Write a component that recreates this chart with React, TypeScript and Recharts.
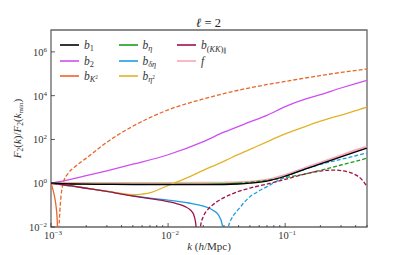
import React from "react";
import { LineChart, Line, XAxis, YAxis, Legend, ReferenceArea, Label } from "recharts";

const FONT = "'Liberation Serif', 'DejaVu Serif', serif";

// k values (h/Mpc) and F2(k)/F2(kmin); dashed = negative part
const kB1 = [0.001, 0.0015, 0.002, 0.003, 0.005, 0.01, 0.02, 0.03, 0.04, 0.05, 0.07, 0.1, 0.15, 0.2, 0.3, 0.4, 0.5];
const vB1 = [1, 0.92, 0.9, 0.88, 0.87, 0.86, 0.86, 0.87, 0.92, 1.0, 1.25, 2.1, 4.5, 7.6, 16, 27, 40];
const vF = [1, 1, 1, 1, 1, 1, 1.01, 1.03, 1.07, 1.14, 1.4, 2.3, 5, 8.5, 18, 31, 45];

const kB2 = [0.001, 0.0014, 0.002, 0.003, 0.005, 0.01, 0.02, 0.03, 0.05, 0.07, 0.1, 0.15, 0.2, 0.3, 0.4, 0.5];
const vB2 = [1, 1.41, 2.2, 3.7, 7.4, 20, 80, 214, 630, 1260, 3160, 7080, 11200, 22400, 35500, 50100];

const kK2 = [0.001, 0.00104, 0.00108, 0.00111, 0.00113, 0.00114];
const vK2 = [1, 0.5, 0.2, 0.07, 0.02, 0.004];
const kK2n = [0.00116, 0.0012, 0.00127, 0.0014, 0.0016, 0.002, 0.003, 0.005, 0.01, 0.02, 0.04, 0.1, 0.2, 0.316, 0.5];
const vK2n = [0.004, 0.1, 1, 2.8, 5.6, 14, 75, 400, 2240, 7080, 17800, 44700, 83000, 120000, 166000];

const kEta = [0.001, 0.0015, 0.002, 0.003, 0.005, 0.01, 0.02, 0.03, 0.04];
const vEta = [1, 0.93, 0.91, 0.9, 0.9, 0.9, 0.91, 0.95, 1.02];
const kEtaN = [0.04, 0.05, 0.07, 0.1, 0.15, 0.2, 0.3, 0.4, 0.5];
const vEtaN = [1.02, 1.1, 1.35, 1.8, 2.7, 3.9, 6.8, 10, 14];

const kDE = [0.001, 0.0015, 0.002, 0.003, 0.005, 0.007, 0.01, 0.015, 0.02, 0.024, 0.027, 0.029, 0.0298];
const vDE = [1, 0.75, 0.59, 0.42, 0.27, 0.21, 0.17, 0.125, 0.09, 0.06, 0.035, 0.013, 0.003];
const kDEn = [0.0316, 0.033, 0.035, 0.04, 0.045, 0.05, 0.06, 0.07, 0.08, 0.1, 0.15, 0.2, 0.3, 0.4, 0.5];
const vDEn = [0.003, 0.012, 0.025, 0.065, 0.14, 0.24, 0.45, 0.7, 1.05, 1.9, 4.5, 7.3, 12.3, 18, 24];

const kE2 = [0.001, 0.0015, 0.002, 0.003, 0.004, 0.005, 0.006, 0.0071, 0.009, 0.0112, 0.015, 0.0202, 0.027, 0.035, 0.05, 0.07, 0.1, 0.15, 0.2, 0.3, 0.4, 0.5];
const vE2 = [1, 0.76, 0.6, 0.43, 0.34, 0.3, 0.32, 0.37, 0.62, 1.0, 1.9, 4, 7.8, 15, 35, 78, 180, 400, 680, 1300, 2050, 3000];

const kKK = [0.001, 0.0015, 0.002, 0.003, 0.005, 0.007, 0.01, 0.012, 0.014, 0.0155, 0.0165, 0.017, 0.0174, 0.0176];
const vKK = [1, 0.75, 0.59, 0.42, 0.26, 0.2, 0.145, 0.115, 0.085, 0.06, 0.038, 0.022, 0.008, 0.002];
const kKKn = [0.0186, 0.019, 0.02, 0.022, 0.025, 0.03, 0.035, 0.04, 0.05, 0.07, 0.1, 0.15, 0.2, 0.25, 0.3, 0.35, 0.4, 0.45, 0.5];
const vKKn = [0.003, 0.012, 0.03, 0.065, 0.12, 0.22, 0.32, 0.42, 0.6, 0.92, 1.5, 2.7, 3.6, 4.0, 3.8, 3.2, 2.4, 1.5, 0.7];

const X_MAJOR = [0.001, 0.01, 0.1];
const X_TICKS = [
  0.001, 0.002, 0.003, 0.004, 0.005, 0.006, 0.007, 0.008, 0.009,
  0.01, 0.02, 0.03, 0.04, 0.05, 0.06, 0.07, 0.08, 0.09,
  0.1, 0.2, 0.3, 0.4, 0.5,
];
const Y_TICKS = [1e-2, 1, 1e2, 1e4, 1e6];

const C = {
  b1: "#000000",
  b2: "#cc4ff0",
  bK2: "#e8662a",
  eta: "#1c9c1c",
  deta: "#1f9de0",
  eta2: "#e2b227",
  kk: "#9e114a",
  f: "#f5a9b6",
};

const pts = (k: number[], v: number[]) => k.map((x, i) => ({ k: x, v: v[i] }));

const SERIES = [
  { id: "f", data: pts(kB1, vF), color: C.f, width: 2.6, dash: undefined },
  { id: "b2", data: pts(kB2, vB2), color: C.b2, width: 1.3, dash: undefined },
  { id: "bK2", data: pts(kK2, vK2), color: C.bK2, width: 1.3, dash: undefined },
  { id: "bK2n", data: pts(kK2n, vK2n), color: C.bK2, width: 1.3, dash: "4 2" },
  { id: "eta", data: pts(kEta, vEta), color: C.eta, width: 1.3, dash: undefined },
  { id: "etan", data: pts(kEtaN, vEtaN), color: C.eta, width: 1.3, dash: "4 2" },
  { id: "deta", data: pts(kDE, vDE), color: C.deta, width: 1.3, dash: undefined },
  { id: "detan", data: pts(kDEn, vDEn), color: C.deta, width: 1.3, dash: "4 2" },
  { id: "eta2", data: pts(kE2, vE2), color: C.eta2, width: 1.3, dash: undefined },
  { id: "kk", data: pts(kKK, vKK), color: C.kk, width: 1.3, dash: undefined },
  { id: "kkn", data: pts(kKKn, vKKn), color: C.kk, width: 1.3, dash: "4 2" },
  { id: "b1", data: pts(kB1, vB1), color: C.b1, width: 1.3, dash: undefined },
];

const sub = { fontSize: "72%", verticalAlign: "-0.3em", lineHeight: 0 } as React.CSSProperties;
const sup = { fontSize: "62%", verticalAlign: "0.5em", lineHeight: 0 } as React.CSSProperties;

const LEGEND = [
  { color: C.b1, label: <><i>b</i><span style={sub}>1</span></> },
  { color: C.b2, label: <><i>b</i><span style={sub}>2</span></> },
  { color: C.bK2, label: <><i>b</i><span style={sub}><i>K</i><span style={sup}>2</span></span></> },
  { color: C.eta, label: <><i>b</i><span style={sub}><i>η</i></span></> },
  { color: C.deta, label: <><i>b</i><span style={sub}><i>δη</i></span></> },
  { color: C.eta2, label: <><i>b</i><span style={sub}><i>η</i><span style={sup}>2</span></span></> },
  { color: C.kk, label: <><i>b</i><span style={sub}>(<i>KK</i>)<span style={{ fontSize: "80%", verticalAlign: "-0.2em" }}>∥</span></span></> },
  { color: C.f, label: <i>f</i> },
];

const exp10 = (v: number) => {
  const e = Math.round(Math.log10(v));
  return e < 0 ? `−${-e}` : `${e}`;
};

const XTick = (props: any) => {
  const { x, y, payload } = props;
  const major = X_MAJOR.includes(payload.value);
  return (
    <g>
      <line x1={x} x2={x} y1={y} y2={y - (major ? 4 : 2)} stroke="#333" strokeWidth={0.8} />
      {major && (
        <text x={x + 2} y={y + 12} textAnchor="middle" fontSize={10.5} fill="#333" fontFamily={FONT}>
          10<tspan dy={-4} fontSize={7}>{exp10(payload.value)}</tspan>
        </text>
      )}
    </g>
  );
};

const YTick = (props: any) => {
  const { x, y, payload } = props;
  return (
    <g>
      <line x1={x} x2={x + 4} y1={y} y2={y} stroke="#333" strokeWidth={0.8} />
      <text x={x - 4} y={y + 4} textAnchor="end" fontSize={10.5} fill="#333" fontFamily={FONT}>
        10<tspan dy={-4} fontSize={7}>{exp10(payload.value)}</tspan>
      </text>
    </g>
  );
};

const renderLegend = () => (
  <div
    style={{
      display: "grid",
      gridAutoFlow: "column",
      gridTemplateRows: "repeat(3, 15.4px)",
      gridTemplateColumns: "repeat(3, 58.5px)",
      fontFamily: FONT,
      fontSize: 11.5,
      color: "#333",
    }}
  >
    {LEGEND.map((it, i) => (
      <div key={i} style={{ display: "flex", alignItems: "center" }}>
        <svg width={19} height={4} style={{ marginRight: 5, flex: "none" }}>
          <line x1={0} x2={19} y1={2} y2={2} stroke={it.color} strokeWidth={1.6} />
        </svg>
        <span style={{ lineHeight: "12px", whiteSpace: "nowrap" }}>{it.label}</span>
      </div>
    ))}
  </div>
);

export default function App() {
  return (
    <div style={{ position: "absolute", left: 0, top: 0, width: 407, height: 255 }}>
      <div
        style={{
          position: "absolute",
          left: 0,
          width: 417,
          top: 16,
          textAlign: "center",
          fontFamily: FONT,
          fontSize: 12.5,
          color: "#222",
          zIndex: 2,
        }}
      >
        <i>ℓ</i> = 2
      </div>
      <LineChart width={407} height={255} margin={{ top: 30, right: 40, bottom: 0, left: 0 }}>
        <XAxis
          dataKey="k"
          type="number"
          scale="log"
          domain={[0.001, 0.5]}
          allowDataOverflow
          ticks={X_TICKS}
          interval={0}
          tick={<XTick />}
          tickSize={0}
          tickMargin={0}
          tickLine={false}
          axisLine={false}
          height={28}
        >
          <Label
            content={(p: any) => {
              const vb = p.viewBox || { x: 51, width: 316, y: 227 };
              return (
                <text x={vb.x + vb.width / 2} y={250} textAnchor="middle" fontSize={11} fill="#333" fontFamily={FONT}>
                  <tspan fontStyle="italic">k</tspan> (<tspan fontStyle="italic">h</tspan>/Mpc)
                </text>
              );
            }}
          />
        </XAxis>
        <YAxis
          type="number"
          scale="log"
          domain={[1e-2, 1e7]}
          allowDataOverflow
          ticks={Y_TICKS}
          interval={0}
          tick={<YTick />}
          tickSize={0}
          tickMargin={0}
          tickLine={false}
          axisLine={false}
          width={51}
        >
          <Label
            content={(p: any) => {
              const vb = p.viewBox || { y: 30, height: 197 };
              const cy = vb.y + vb.height / 2;
              return (
                <text
                  x={21}
                  y={cy}
                  transform={`rotate(-90, 21, ${cy})`}
                  textAnchor="middle"
                  fontSize={11}
                  fill="#333"
                  fontFamily={FONT}
                >
                  <tspan fontStyle="italic">F</tspan>
                  <tspan fontSize={7.5} dy={2}>2</tspan>
                  <tspan dy={-2}>(</tspan>
                  <tspan fontStyle="italic">k</tspan>
                  <tspan>)/</tspan>
                  <tspan fontStyle="italic">F</tspan>
                  <tspan fontSize={7.5} dy={2}>2</tspan>
                  <tspan dy={-2}>(</tspan>
                  <tspan fontStyle="italic">k</tspan>
                  <tspan fontSize={7} dy={2}>min</tspan>
                  <tspan dy={-2}>)</tspan>
                </text>
              );
            }}
          />
        </YAxis>
        {SERIES.map((s) => (
          <Line
            key={s.id}
            data={s.data}
            dataKey="v"
            type="monotone"
            stroke={s.color}
            strokeWidth={s.width}
            strokeDasharray={s.dash}
            dot={false}
            activeDot={false}
            legendType="none"
            isAnimationActive={false}
          />
        ))}
        <ReferenceArea
          x1={0.001}
          x2={0.5}
          y1={1e-2}
          y2={1e7}
          fill="none"
          fillOpacity={0}
          stroke="#666"
          strokeWidth={1.3}
          ifOverflow="visible"
        />
        <Legend
          content={renderLegend}
          layout="horizontal"
          verticalAlign="middle"
          align="center"
          wrapperStyle={{ position: "absolute", left: 60, top: 37.5, width: 190, height: 50 }}
        />
      </LineChart>
    </div>
  );
}
